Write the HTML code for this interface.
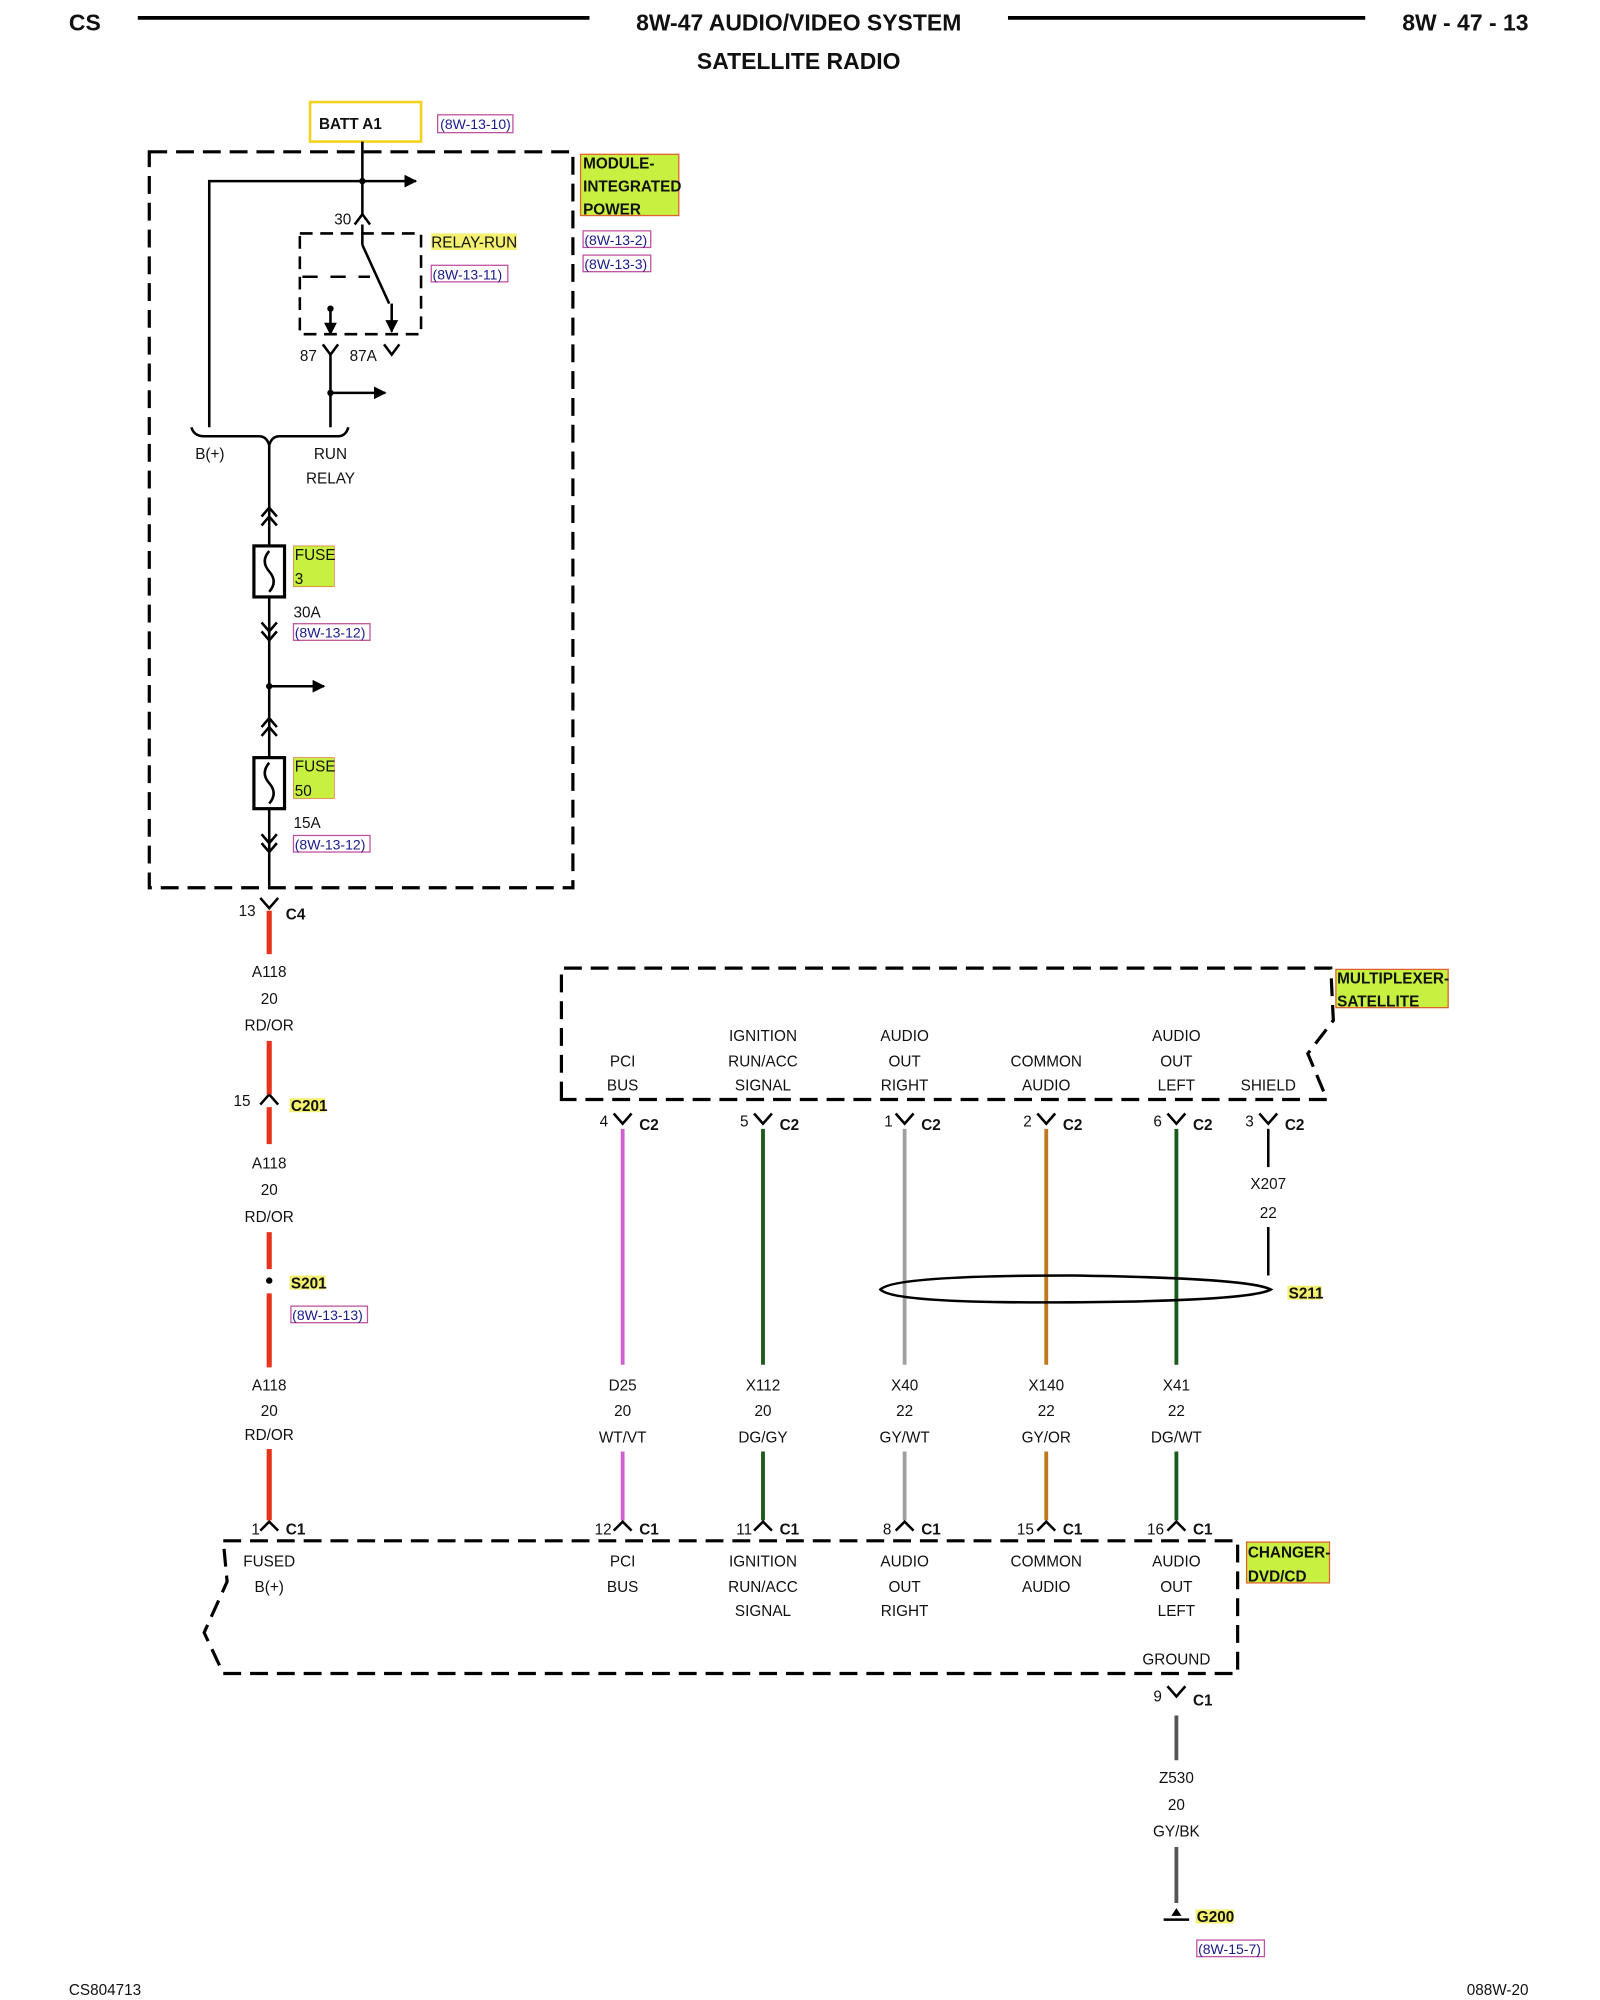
<!DOCTYPE html>
<html><head><meta charset="utf-8"><style>
html,body{margin:0;padding:0;background:#fff;}
svg{display:block;}
text{font-family:"Liberation Sans",sans-serif;font-size:12px;fill:#111;}
.b{font-weight:bold;}
.h{font-size:18px;font-weight:bold;}
.m{text-anchor:middle;}
.ref{font-size:11px;fill:#1a1a8a;}
</style></head><body>
<svg width="1600" height="2000" viewBox="0 0 1254 1568" preserveAspectRatio="none" xmlns="http://www.w3.org/2000/svg">
<defs>
<marker id="ar" markerWidth="10" markerHeight="10" refX="9" refY="5" orient="auto" markerUnits="userSpaceOnUse"><path d="M0,0 L10,5 L0,10 z" fill="#000"/></marker>
</defs>
<text x="54" y="24" class="h">CS</text>
<line x1="108" y1="14" x2="462" y2="14" stroke="#000" stroke-width="3"/>
<text x="626" y="24" class="h m">8W-47 AUDIO/VIDEO SYSTEM</text>
<line x1="790" y1="14" x2="1070" y2="14" stroke="#000" stroke-width="3"/>
<text x="1198" y="24" class="h" text-anchor="end">8W - 47 - 13</text>
<text x="626" y="54" class="h m">SATELLITE RADIO</text>

<rect x="243" y="80" width="87" height="31" fill="none" stroke="#f2d21b" stroke-width="2"/>
<text x="250" y="101" class="b" font-size="11">BATT A1</text>
<rect x="343" y="90" width="59" height="14" fill="none" stroke="#c050a0"/>
<text x="345" y="101" class="ref">(8W-13-10)</text>

<rect x="117" y="119" width="332" height="577" fill="none" stroke="#000" stroke-width="2.5" stroke-dasharray="14,7"/>
<rect x="455" y="121" width="77" height="48" fill="#c8f040" stroke="#e06030"/>
<text x="457" y="132" class="b" font-size="11">MODULE-</text>
<text x="457" y="150" class="b" font-size="11">INTEGRATED</text>
<text x="457" y="168" class="b" font-size="11">POWER</text>
<rect x="457" y="181" width="53" height="13" fill="none" stroke="#c050a0"/>
<text x="458" y="192" class="ref">(8W-13-2)</text>
<rect x="457" y="200" width="53" height="13" fill="none" stroke="#c050a0"/>
<text x="458" y="211" class="ref">(8W-13-3)</text>

<g stroke="#000" stroke-width="2" fill="none">
<line x1="284" y1="111" x2="284" y2="168"/>
<line x1="284" y1="142" x2="326" y2="142" marker-end="url(#ar)"/>
<polyline points="284,142 164,142 164,335"/>
<polyline points="278,176 284,168 290,176"/>
<line x1="284" y1="176" x2="284" y2="192"/>
<rect x="235" y="183" width="95" height="79" stroke-dasharray="10,6"/>
<line x1="237" y1="217" x2="290" y2="217" stroke-dasharray="12,10"/>
<line x1="284" y1="192" x2="305" y2="238"/>
<line x1="307" y1="238" x2="307" y2="260" marker-end="url(#ar)"/>
<line x1="259" y1="242" x2="259" y2="262" marker-end="url(#ar)"/>
<polyline points="253,270 259,278 265,270"/>
<polyline points="301,270 307,278 313,270"/>
<line x1="259" y1="278" x2="259" y2="335"/>
<line x1="259" y1="308" x2="302" y2="308" marker-end="url(#ar)"/>
<path d="M150,335 Q152,342 160,342 L203,342 Q209,342 211,349 Q213,342 219,342 L265,342 Q271,342 273,335"/>
<line x1="211" y1="349" x2="211" y2="696"/>
<polyline points="205,405 211,398 217,405"/><polyline points="205,412 211,405 217,412"/>
<rect x="199" y="428" width="24" height="40" stroke-width="2.5" fill="#fff"/>
<path d="M211,432 Q204,440 211,448 Q218,456 211,464"/>
<polyline points="205,488 211,495 217,488"/><polyline points="205,495 211,502 217,495"/>
<line x1="211" y1="538" x2="254" y2="538" marker-end="url(#ar)"/>
<polyline points="205,570 211,563 217,570"/><polyline points="205,577 211,570 217,577"/>
<rect x="199" y="594" width="24" height="40" stroke-width="2.5" fill="#fff"/>
<path d="M211,598 Q204,606 211,614 Q218,622 211,630"/>
<polyline points="205,654 211,661 217,654"/><polyline points="205,661 211,668 217,661"/>
</g>
<circle cx="284" cy="142" r="2.5"/><circle cx="259" cy="242" r="2.5"/><circle cx="259" cy="308" r="2.5"/><circle cx="211" cy="538" r="2.5"/>
<text x="262" y="176" font-size="11">30</text>
<rect x="338" y="183" width="67" height="13" fill="#f4f070"/>
<text x="338" y="194" font-size="11" fill="#6a7a00">RELAY-RUN</text>
<rect x="338" y="208" width="60" height="13" fill="none" stroke="#c050a0"/>
<text x="339" y="219" class="ref">(8W-13-11)</text>
<text x="235" y="283" font-size="11">87</text>
<text x="274" y="283" font-size="11">87A</text>
<text x="153" y="360">B(+)</text>
<text x="259" y="360" class="m">RUN</text>
<text x="259" y="379" class="m">RELAY</text>
<rect x="230" y="428" width="32" height="32" fill="#c8f040" stroke="#e06030" stroke-width="0.5"/>
<text x="231" y="439" font-size="11" fill="#6a7a00">FUSE</text>
<text x="231" y="458" font-size="11" fill="#6a7a00">3</text>
<text x="230" y="484" font-size="11">30A</text>
<rect x="230" y="489" width="60" height="13" fill="none" stroke="#c050a0"/>
<text x="231" y="500" class="ref">(8W-13-12)</text>
<rect x="230" y="594" width="32" height="32" fill="#c8f040" stroke="#e06030" stroke-width="0.5"/>
<text x="231" y="605" font-size="11" fill="#6a7a00">FUSE</text>
<text x="231" y="624" font-size="11" fill="#6a7a00">50</text>
<text x="230" y="649" font-size="11">15A</text>
<rect x="230" y="655" width="60" height="13" fill="none" stroke="#c050a0"/>
<text x="231" y="666" class="ref">(8W-13-12)</text>

<g stroke="#000" stroke-width="2" fill="none">
<polyline points="204,704 211,712 218,704"/>
<polyline points="204,866 211,858 218,866"/>
<polyline points="204,1200 211,1193 218,1200"/>
</g>
<g stroke="#e8321c" stroke-width="4">
<line x1="211" y1="714" x2="211" y2="748"/>
<line x1="211" y1="816" x2="211" y2="858"/>
<line x1="211" y1="868" x2="211" y2="897"/>
<line x1="211" y1="966" x2="211" y2="995"/>
<line x1="211" y1="1014" x2="211" y2="1072"/>
<line x1="211" y1="1136" x2="211" y2="1192"/>
</g>
<circle cx="211" cy="1004" r="2.5"/>
<text x="187" y="718" font-size="11">13</text>
<text x="224" y="721" class="b" font-size="11">C4</text>
<text x="211" y="766" class="m">A118</text><text x="211" y="787" class="m">20</text><text x="211" y="808" class="m">RD/OR</text>
<text x="183" y="867" font-size="11">15</text>
<rect x="227" y="861" width="28" height="11" fill="#f4f070"/><text x="228" y="871" class="b" font-size="11">C201</text>
<text x="211" y="916" class="m">A118</text><text x="211" y="937" class="m">20</text><text x="211" y="958" class="m">RD/OR</text>
<rect x="227" y="1000" width="28" height="11" fill="#f4f070"/><text x="228" y="1010" class="b" font-size="11">S201</text>
<rect x="228" y="1024" width="60" height="13" fill="none" stroke="#c050a0"/>
<text x="229" y="1035" class="ref">(8W-13-13)</text>
<text x="211" y="1090" class="m">A118</text><text x="211" y="1110" class="m">20</text><text x="211" y="1129" class="m">RD/OR</text>
<text x="197" y="1203" font-size="11">1</text>
<text x="224" y="1203" class="b" font-size="11">C1</text>

<path d="M440,862 L440,759 L1043,759 L1045,800 L1025,826 L1040,862 Z" fill="none" stroke="#000" stroke-width="2.5" stroke-dasharray="14,7"/>
<rect x="1047" y="760" width="88" height="30" fill="#c8f040" stroke="#e06030"/>
<text x="1048" y="771" class="b" font-size="11">MULTIPLEXER-</text>
<text x="1048" y="789" class="b" font-size="11">SATELLITE</text>
<text x="488" y="836" class="m">PCI</text><text x="488" y="855" class="m">BUS</text>
<text x="598" y="816" class="m">IGNITION</text><text x="598" y="836" class="m">RUN/ACC</text><text x="598" y="855" class="m">SIGNAL</text>
<text x="709" y="816" class="m">AUDIO</text><text x="709" y="836" class="m">OUT</text><text x="709" y="855" class="m">RIGHT</text>
<text x="820" y="836" class="m">COMMON</text><text x="820" y="855" class="m">AUDIO</text>
<text x="922" y="816" class="m">AUDIO</text><text x="922" y="836" class="m">OUT</text><text x="922" y="855" class="m">LEFT</text>
<text x="994" y="855" class="m">SHIELD</text>
<g stroke-width="3">
<line x1="488" y1="885" x2="488" y2="1070" stroke="#d060d0"/>
<line x1="598" y1="885" x2="598" y2="1070" stroke="#1a5a1a"/>
<line x1="709" y1="885" x2="709" y2="1070" stroke="#a0a0a0"/>
<line x1="820" y1="885" x2="820" y2="1070" stroke="#c07820"/>
<line x1="922" y1="885" x2="922" y2="1070" stroke="#1a5a1a"/>
<line x1="488" y1="1138" x2="488" y2="1192" stroke="#d060d0"/>
<line x1="598" y1="1138" x2="598" y2="1192" stroke="#1a5a1a"/>
<line x1="709" y1="1138" x2="709" y2="1192" stroke="#a0a0a0"/>
<line x1="820" y1="1138" x2="820" y2="1192" stroke="#c07820"/>
<line x1="922" y1="1138" x2="922" y2="1192" stroke="#1a5a1a"/>
<line x1="922" y1="1345" x2="922" y2="1380" stroke="#555"/>
<line x1="922" y1="1448" x2="922" y2="1492" stroke="#555"/>
</g>
<line x1="994" y1="885" x2="994" y2="915" stroke="#000" stroke-width="2"/>
<line x1="994" y1="962" x2="994" y2="1000" stroke="#000" stroke-width="2"/>
<path d="M690,1011 Q700,1000 840,1000 Q980,1002 996,1011 Q980,1020 840,1021 Q700,1022 690,1011 Z" fill="none" stroke="#000" stroke-width="2"/>
<rect x="1009" y="1008" width="27" height="11" fill="#f4f070"/><text x="1010" y="1018" class="b" font-size="11">S211</text>
<g stroke="#000" stroke-width="2" fill="none">
<polyline points="481,873 488,881 495,873"/><polyline points="591,873 598,881 605,873"/>
<polyline points="702,873 709,881 716,873"/><polyline points="813,873 820,881 827,873"/>
<polyline points="915,873 922,881 929,873"/><polyline points="987,873 994,881 1001,873"/>
<polyline points="481,1200 488,1193 495,1200"/><polyline points="591,1200 598,1193 605,1200"/>
<polyline points="702,1200 709,1193 716,1200"/><polyline points="813,1200 820,1193 827,1200"/>
<polyline points="915,1200 922,1193 929,1200"/>
<polyline points="915,1322 922,1330 929,1322"/>
</g>
<g font-size="11">
<text x="470" y="883">4</text><text x="501" y="886" class="b">C2</text>
<text x="580" y="883">5</text><text x="611" y="886" class="b">C2</text>
<text x="693" y="883">1</text><text x="722" y="886" class="b">C2</text>
<text x="802" y="883">2</text><text x="833" y="886" class="b">C2</text>
<text x="904" y="883">6</text><text x="935" y="886" class="b">C2</text>
<text x="976" y="883">3</text><text x="1007" y="886" class="b">C2</text>
<text x="466" y="1203">12</text><text x="501" y="1203" class="b">C1</text>
<text x="577" y="1203">11</text><text x="611" y="1203" class="b">C1</text>
<text x="692" y="1203">8</text><text x="722" y="1203" class="b">C1</text>
<text x="797" y="1203">15</text><text x="833" y="1203" class="b">C1</text>
<text x="899" y="1203">16</text><text x="935" y="1203" class="b">C1</text>
<text x="904" y="1334">9</text><text x="935" y="1337" class="b">C1</text>
</g>
<text x="994" y="932" class="m">X207</text><text x="994" y="955" class="m">22</text>
<text x="488" y="1090" class="m">D25</text><text x="488" y="1110" class="m">20</text><text x="488" y="1131" class="m">WT/VT</text>
<text x="598" y="1090" class="m">X112</text><text x="598" y="1110" class="m">20</text><text x="598" y="1131" class="m">DG/GY</text>
<text x="709" y="1090" class="m">X40</text><text x="709" y="1110" class="m">22</text><text x="709" y="1131" class="m">GY/WT</text>
<text x="820" y="1090" class="m">X140</text><text x="820" y="1110" class="m">22</text><text x="820" y="1131" class="m">GY/OR</text>
<text x="922" y="1090" class="m">X41</text><text x="922" y="1110" class="m">22</text><text x="922" y="1131" class="m">DG/WT</text>

<path d="M175,1208 L970,1208 L970,1312 L175,1312 L160,1280 L178,1240 Z" fill="none" stroke="#000" stroke-width="2.5" stroke-dasharray="14,7"/>
<rect x="977" y="1209" width="65" height="32" fill="#c8f040" stroke="#e06030"/>
<text x="978" y="1221" class="b" font-size="11">CHANGER-</text>
<text x="978" y="1240" class="b" font-size="11">DVD/CD</text>
<text x="211" y="1228" class="m">FUSED</text><text x="211" y="1248" class="m">B(+)</text>
<text x="488" y="1228" class="m">PCI</text><text x="488" y="1248" class="m">BUS</text>
<text x="598" y="1228" class="m">IGNITION</text><text x="598" y="1248" class="m">RUN/ACC</text><text x="598" y="1267" class="m">SIGNAL</text>
<text x="709" y="1228" class="m">AUDIO</text><text x="709" y="1248" class="m">OUT</text><text x="709" y="1267" class="m">RIGHT</text>
<text x="820" y="1228" class="m">COMMON</text><text x="820" y="1248" class="m">AUDIO</text>
<text x="922" y="1228" class="m">AUDIO</text><text x="922" y="1248" class="m">OUT</text><text x="922" y="1267" class="m">LEFT</text>
<text x="922" y="1305" class="m">GROUND</text>
<text x="922" y="1398" class="m">Z530</text><text x="922" y="1419" class="m">20</text><text x="922" y="1440" class="m">GY/BK</text>
<line x1="912" y1="1505" x2="932" y2="1505" stroke="#000" stroke-width="2"/>
<path d="M918,1502 L922,1496 L926,1502 Z" fill="#000"/>
<rect x="937" y="1497" width="30" height="11" fill="#f4f070"/><text x="938" y="1507" class="b" font-size="11">G200</text>
<rect x="938" y="1521" width="53" height="13" fill="none" stroke="#c050a0"/>
<text x="939" y="1532" class="ref">(8W-15-7)</text>

<text x="54" y="1564" font-size="11">CS804713</text>
<text x="1198" y="1564" font-size="11" text-anchor="end">088W-20</text>
</svg>
</body></html>
